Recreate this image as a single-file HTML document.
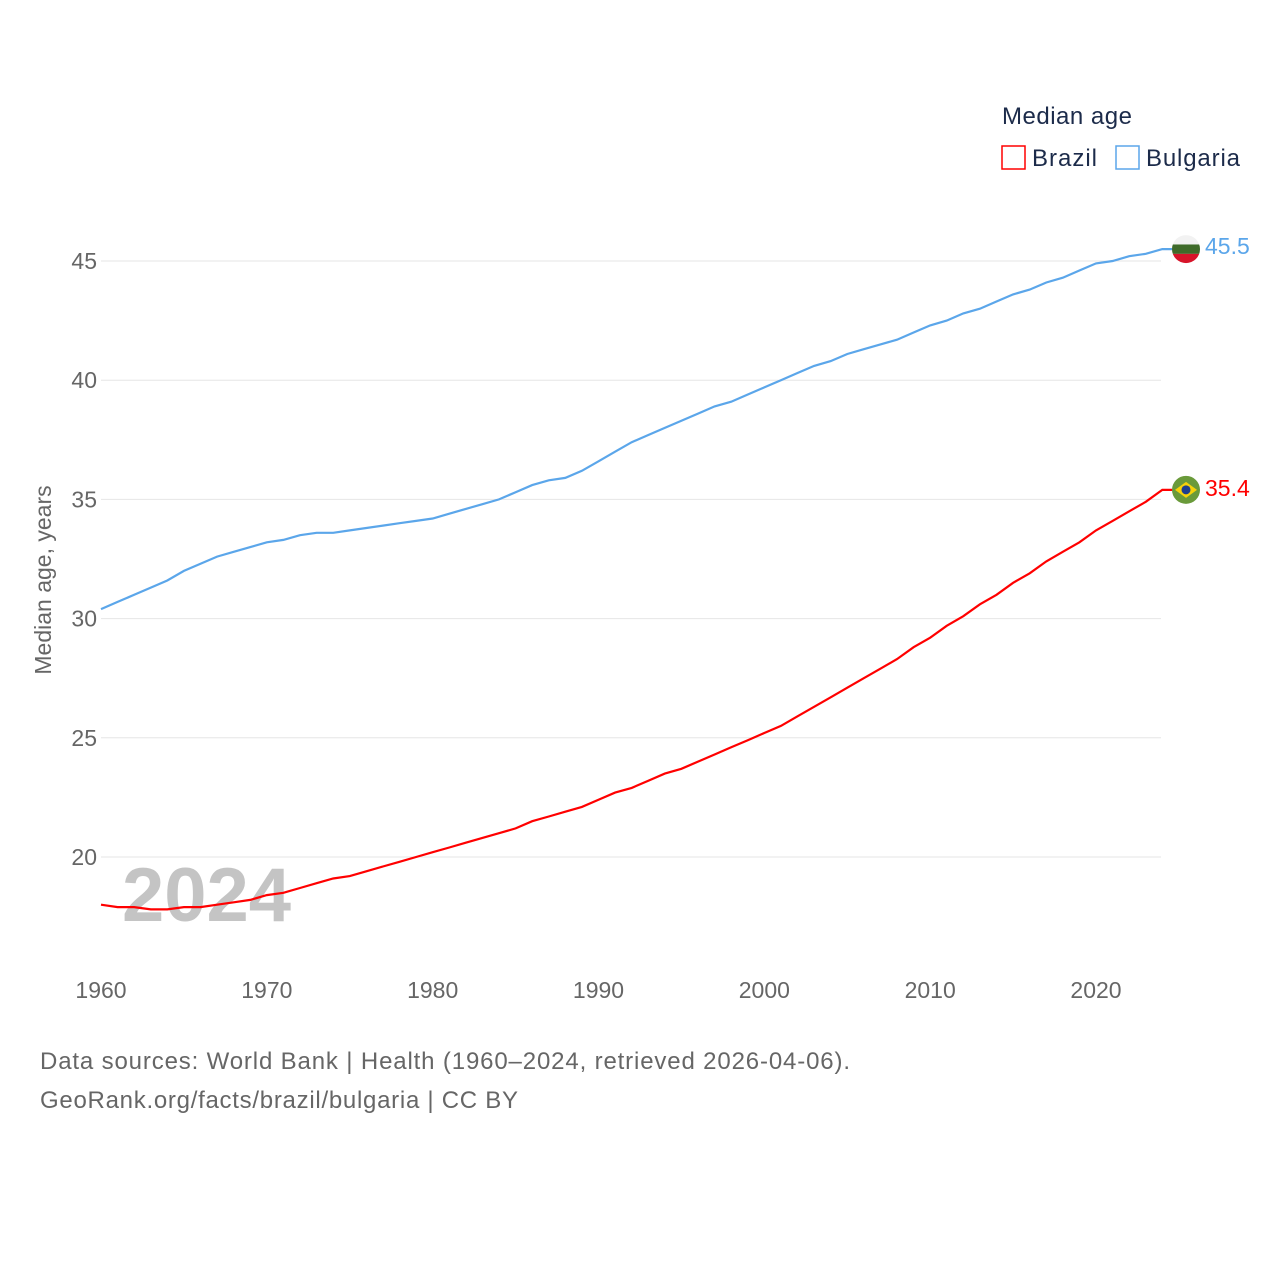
<!DOCTYPE html>
<html><head><meta charset="utf-8"><style>
body{margin:0;background:#fff;font-family:"Liberation Sans",sans-serif}
svg text{font-family:"Liberation Sans",sans-serif}
</style></head><body>
<svg width="1280" height="1280" viewBox="0 0 1280 1280">
<g id="grid"></g>
<g id="yt"></g>
<g id="xt"></g>
<text x="122" y="921" font-size="76" font-weight="bold" fill="#c4c4c4">2024</text>
<g id="lines"></g>
<text transform="translate(51,580) rotate(-90)" text-anchor="middle" font-size="23" fill="#666">Median age, years</text>
<text x="1002" y="124" font-size="24" fill="#1c2b4a" textLength="130">Median age</text>
<g><rect x="1002" y="146" width="23" height="23" fill="none" stroke="#f00" stroke-width="1.5"/><text x="1032" y="166" font-size="24" fill="#1c2b4a" textLength="65">Brazil</text></g>
<g><rect x="1116" y="146" width="23" height="23" fill="none" stroke="#5ba6ea" stroke-width="1.5"/><text x="1146" y="166" font-size="24" fill="#1c2b4a" textLength="94">Bulgaria</text></g>
<g id="ends"></g>
<text x="40" y="1069" font-size="24" fill="#666" textLength="810">Data sources: World Bank | Health (1960–2024, retrieved 2026-04-06).</text>
<text x="40" y="1108" font-size="24" fill="#666" textLength="478">GeoRank.org/facts/brazil/bulgaria | CC BY</text>
</svg>
<script>
const years=[];for(let y=1960;y<=2024;y++)years.push(y);
const bulgaria=[30.4,30.7,31.0,31.3,31.6,32.0,32.3,32.6,32.8,33.0,33.2,33.3,33.5,33.6,33.6,33.7,33.8,33.9,34.0,34.1,34.2,34.4,34.6,34.8,35.0,35.3,35.6,35.8,35.9,36.2,36.6,37.0,37.4,37.7,38.0,38.3,38.6,38.9,39.1,39.4,39.7,40.0,40.3,40.6,40.8,41.1,41.3,41.5,41.7,42.0,42.3,42.5,42.8,43.0,43.3,43.6,43.8,44.1,44.3,44.6,44.9,45.0,45.2,45.3,45.5];
const brazil=[18.0,17.9,17.9,17.8,17.8,17.9,17.9,18.0,18.1,18.2,18.4,18.5,18.7,18.9,19.1,19.2,19.4,19.6,19.8,20.0,20.2,20.4,20.6,20.8,21.0,21.2,21.5,21.7,21.9,22.1,22.4,22.7,22.9,23.2,23.5,23.7,24.0,24.3,24.6,24.9,25.2,25.5,25.9,26.3,26.7,27.1,27.5,27.9,28.3,28.8,29.2,29.7,30.1,30.6,31.0,31.5,31.9,32.4,32.8,33.2,33.7,34.1,34.5,34.9,35.4];
const yTicks=[20,25,30,35,40,45];
const xTicks=[1960,1970,1980,1990,2000,2010,2020];
const X=y=>101+(y-1960)*(995/60);
const Y=v=>857-(v-20)*(596/25);
const NS='http://www.w3.org/2000/svg';
function mk(p,t,a){const e=document.createElementNS(NS,t);for(const k in a)e.setAttribute(k,a[k]);p.appendChild(e);return e;}
const grid=document.getElementById('grid'),yt=document.getElementById('yt'),xt=document.getElementById('xt');
yTicks.forEach(v=>{
 const l=mk(grid,'line',{x1:101,x2:1161,y1:Y(v),y2:Y(v),stroke:'#e6e6e6','stroke-width':1});
 
 
 const t=mk(yt,'text',{x:97,y:Y(v)+8,'text-anchor':'end','font-size':23,fill:'#666'});t.textContent=v;
 
 
});
xTicks.forEach(v=>{
 const t=mk(xt,'text',{x:X(v),y:998,'text-anchor':'middle','font-size':23,fill:'#666'});t.textContent=v;
 
 
});
const lines=document.getElementById('lines');
function series(vals,color,name){
 let d=vals.map((v,i)=>(i?'L':'M')+X(years[i]).toFixed(1)+','+Y(v).toFixed(1)).join(' ');
 d+=' L'+(X(2024)+10).toFixed(1)+','+Y(vals[vals.length-1]).toFixed(1);
 const p=mk(lines,'path',{d:d,fill:'none',stroke:color,'stroke-width':2.2});
 
 
}
series(bulgaria,'#5ba6ea','bulgaria-line');
series(brazil,'#f00','brazil-line');
const ends=document.getElementById('ends');
const bv=bulgaria[bulgaria.length-1],rv=brazil[brazil.length-1];
const cx=1186;
const bg=mk(ends,'g',{});


mk(bg,'clipPath',{id:'cb'});
mk(document.getElementById('cb'),'circle',{cx:cx,cy:Y(bv),r:14});
const by=Y(bv)-14;
mk(bg,'rect',{x:cx-14,y:by,width:28,height:9.4,fill:'#f2f2f2','clip-path':'url(#cb)'});
mk(bg,'rect',{x:cx-14,y:by+9.4,width:28,height:9.4,fill:'#3f6b2a','clip-path':'url(#cb)'});
mk(bg,'rect',{x:cx-14,y:by+18.8,width:28,height:9.4,fill:'#d7142a','clip-path':'url(#cb)'});
const br=mk(ends,'g',{});


const ry=Y(rv);
mk(br,'circle',{cx:cx,cy:ry,r:14,fill:'#6a9a3a'});
mk(br,'polygon',{points:`${cx-11},${ry} ${cx},${ry-8} ${cx+11},${ry} ${cx},${ry+8}`,fill:'#f5d20a'});
mk(br,'circle',{cx:cx,cy:ry,r:4.5,fill:'#1d3f8f'});
const t1=mk(ends,'text',{x:1205,y:Y(bv)+5,'font-size':23,fill:'#5ba6ea'});t1.textContent=bv.toFixed(1);


const t2=mk(ends,'text',{x:1205,y:ry+6,'font-size':23,fill:'#f00'});t2.textContent=rv.toFixed(1);


</script>
</body></html>
